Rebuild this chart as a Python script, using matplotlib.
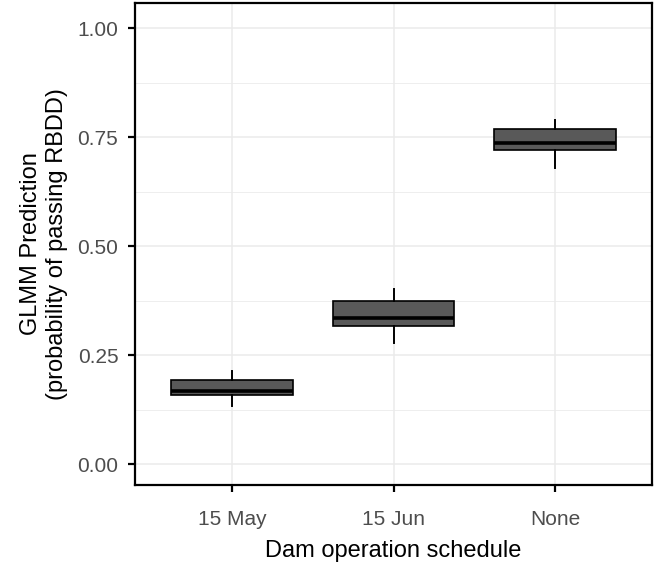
import matplotlib
matplotlib.use("Agg")
import matplotlib.pyplot as plt
import numpy as np

# schedules and box statistics
schedules = ["15 May", "15 Jun", "None"]
whisker_low = [0.133, 0.277, 0.680]
q1 = [0.158, 0.317, 0.720]
median = [0.168, 0.336, 0.737]
q3 = [0.194, 0.374, 0.768]
whisker_high = [0.213, 0.401, 0.789]

yticks = [0.00, 0.25, 0.50, 0.75, 1.00]

plt.rcParams['font.family'] = ['Liberation Sans', 'DejaVu Sans']

fig = plt.figure(figsize=(6.57, 5.66), dpi=100)
ax = fig.add_axes([135 / 657, 1 - 485 / 566, (652 - 135) / 657, (485 - 3) / 566])

stats = []
for i, s in enumerate(schedules):
    stats.append(dict(label=s, whislo=whisker_low[i], q1=q1[i], med=median[i],
                      q3=q3[i], whishi=whisker_high[i], fliers=[]))

pos = np.arange(1, len(schedules) + 1)
ax.bxp(stats, positions=pos, widths=0.75, patch_artist=True, showcaps=False,
       showfliers=False,
       boxprops=dict(facecolor="#595959", edgecolor="black", linewidth=1.2),
       medianprops=dict(color="black", linewidth=2.6, solid_capstyle="butt"),
       whiskerprops=dict(color="black", linewidth=1.4), zorder=3)

ax.set_xlim(0.4, 3.6)
ax.set_ylim(-0.048, 1.058)
ax.set_xticks(pos)
ax.set_xticklabels(schedules)
ax.set_yticks(yticks)
ax.set_yticklabels([f"{v:.2f}" for v in yticks])
ax.set_yticks(np.arange(0.125, 1.0, 0.25), minor=True)

ax.grid(True, which="major", color="#EBEBEB", linewidth=1.1, zorder=0)
ax.grid(True, which="minor", axis="y", color="#EBEBEB", linewidth=0.6, zorder=0)
ax.set_axisbelow(True)

for sp in ax.spines.values():
    sp.set_color("black")
    sp.set_linewidth(1.6)

ax.tick_params(which="major", length=5, width=1.6, color="black",
               labelsize=15, labelcolor="#4D4D4D")
ax.tick_params(axis="x", pad=13)
ax.tick_params(axis="y", pad=7)
ax.tick_params(which="minor", length=0)

ax.set_xlabel("Dam operation schedule", fontsize=17, color="black", labelpad=8)
ax.set_ylabel("GLMM Prediction\n(probability of passing RBDD)", fontsize=17,
              color="black", labelpad=7, linespacing=1.2)

fig.savefig("out.png", dpi=100)
